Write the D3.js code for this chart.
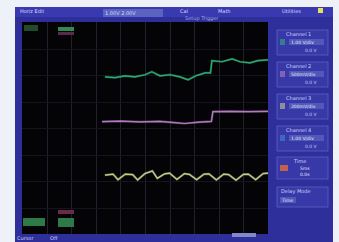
<!DOCTYPE html>
<html>
<head>
<meta charset="utf-8">
<script src="https://cdn.jsdelivr.net/npm/d3@7"></script>
<style>
  html, body { margin: 0; padding: 0; background: #eef1f8; }
  svg { display: block; }
  text { font-family: "DejaVu Sans", sans-serif; }
</style>
</head>
<body>
<div id="chart"></div>
<script>
// trace data, x in horizontal divisions (0-10), y in vertical divisions (-4..4)
const ch1Time = [3.37, 3.78, 4.19, 4.59, 5.0, 5.28, 5.61, 6.02, 6.42, 6.75, 7.07, 7.44, 7.66, 7.72, 8.13, 8.54, 8.86, 9.27, 9.59, 10.0];
const ch1Vals = [1.93, 1.9, 1.97, 1.93, 2.01, 2.12, 1.97, 2.01, 1.93, 1.82, 1.97, 2.08, 2.08, 2.54, 2.5, 2.61, 2.5, 2.46, 2.54, 2.57];

const ch2Time = [3.25, 4.0, 4.8, 5.6, 6.2, 6.6, 7.2, 7.7, 7.76, 8.5, 9.2, 10.0];
const ch2Vals = [0.24, 0.26, 0.23, 0.25, 0.2, 0.17, 0.22, 0.25, 0.62, 0.63, 0.62, 0.63];

const ch3Time = [3.37, 3.7, 3.9, 4.2, 4.5, 4.7, 5.0, 5.3, 5.5, 5.8, 6.0, 6.3, 6.6, 6.8, 7.1, 7.4, 7.6, 7.9, 8.2, 8.4, 8.7, 9.0, 9.2, 9.5, 9.8, 10.0];
const ch3Vals = [-1.78, -1.74, -1.95, -1.74, -1.76, -1.96, -1.72, -1.62, -1.9, -1.73, -1.7, -1.94, -1.72, -1.75, -1.95, -1.74, -1.73, -1.96, -1.74, -1.76, -1.97, -1.75, -1.74, -1.95, -1.72, -1.7];

const topMenu = ['Horiz Edit', 'Math', 'Utilities'];
const sideTitles = ['Channel 1', 'Channel 2', 'Channel 3', 'Channel 4'];
const sideScales = ['1.00 V/div', '500mV/div', '200mV/div', '1.00 V/div'];
const sideOffsets = ['0.0 V', '0.0 V', '0.0 V', '0.0 V'];
const chColors = ['#2fae74', '#b47cc0', '#c4cc8a', '#3a8ad0'];

const W = 339, H = 242;
const svg = d3.select('#chart').append('svg').attr('width', W).attr('height', H);

// instrument frame
svg.append('rect').attr('x', 15).attr('y', 7).attr('width', 318).attr('height', 235).attr('fill', '#2f2f9c');
svg.append('rect').attr('x', 15).attr('y', 7).attr('width', 318).attr('height', 10).attr('fill', '#3a3ab0');

// plot area
const plot = {left: 22, top: 22, right: 268, bottom: 234};
const x = d3.scaleLinear().domain([0, 10]).range([plot.left, plot.right]);
const y = d3.scaleLinear().domain([-4, 4]).range([plot.bottom, plot.top]);

svg.append('rect').attr('x', plot.left).attr('y', plot.top)
  .attr('width', plot.right - plot.left).attr('height', plot.bottom - plot.top).attr('fill', '#040406');

const grid = svg.append('g').attr('stroke', '#20202e').attr('stroke-width', 1);
grid.selectAll('line.v').data(d3.range(1, 10)).enter().append('line')
  .attr('x1', d => Math.round(x(d)) + 0.5).attr('x2', d => Math.round(x(d)) + 0.5)
  .attr('y1', plot.top).attr('y2', plot.bottom);
grid.selectAll('line.h').data(d3.range(-3, 4)).enter().append('line')
  .attr('y1', d => Math.round(y(d)) + 0.5).attr('y2', d => Math.round(y(d)) + 0.5)
  .attr('x1', plot.left).attr('x2', plot.right).attr('stroke', '#141420');

// traces
const line = d3.line().x(d => x(d[0])).y(d => y(d[1])).curve(d3.curveLinear);
const traces = [
  {t: ch1Time, v: ch1Vals, c: chColors[0]},
  {t: ch2Time, v: ch2Vals, c: chColors[1]},
  {t: ch3Time, v: ch3Vals, c: chColors[2]}
];
traces.forEach(tr => {
  const pts = tr.t.map((t, i) => [t, tr.v[i]]);
  svg.append('path').attr('d', line(pts)).attr('fill', 'none')
    .attr('stroke', tr.c).attr('stroke-width', 2.2).attr('opacity', 0.5);
  svg.append('path').attr('d', line(pts)).attr('fill', 'none')
    .attr('stroke', tr.c).attr('stroke-width', 1.2);
});

// channel tags inside the screen
const tags = svg.append('g');
tags.append('rect').attr('x', 24).attr('y', 25).attr('width', 14).attr('height', 6).attr('fill', '#1f4a2c');
tags.append('rect').attr('x', 58).attr('y', 27).attr('width', 16).attr('height', 4).attr('fill', '#2f8a52');
tags.append('rect').attr('x', 58).attr('y', 32).attr('width', 16).attr('height', 3).attr('fill', '#5a2a4a');
tags.append('rect').attr('x', 23).attr('y', 218).attr('width', 22).attr('height', 8).attr('fill', '#2d7a48');
tags.append('rect').attr('x', 58).attr('y', 210).attr('width', 16).attr('height', 4).attr('fill', '#6a2a4a');
tags.append('rect').attr('x', 58).attr('y', 218).attr('width', 16).attr('height', 9).attr('fill', '#2d7a48');

// top menu text
const header = svg.append('g').attr('fill', '#d8dcff').attr('font-size', 5);
header.append('text').attr('x', 20).attr('y', 13).text(topMenu[0]);
header.append('rect').attr('x', 103).attr('y', 9).attr('width', 60).attr('height', 8).attr('fill', '#5a64c0');
header.append('text').attr('x', 105).attr('y', 15).text('1.00V  2.00V');
header.append('text').attr('x', 180).attr('y', 13).text('Cal');
header.append('text').attr('x', 218).attr('y', 13).text(topMenu[1]);
header.append('text').attr('x', 282).attr('y', 13).text(topMenu[2]);
header.append('rect').attr('x', 318).attr('y', 8).attr('width', 5).attr('height', 5).attr('fill', '#e4e060');
header.append('text').attr('x', 185).attr('y', 20).text('Setup  Trigger').attr('fill', '#a0a8e8');

// right side panel boxes
const side = svg.append('g');
sideTitles.forEach((title, i) => {
  const by = 30 + i * 32;
  side.append('rect').attr('x', 277).attr('y', by).attr('width', 51).attr('height', 25)
    .attr('fill', '#3838a8').attr('stroke', '#6a70c8').attr('stroke-width', 0.6);
  side.append('text').attr('x', 286).attr('y', by + 6).attr('font-size', 5).attr('fill', '#d0d4ff').text(title);
  side.append('rect').attr('x', 289).attr('y', by + 9).attr('width', 35).attr('height', 6).attr('fill', '#5058b8');
  side.append('text').attr('x', 291).attr('y', by + 14).attr('font-size', 4.5).attr('fill', '#e8eaff').text(sideScales[i]);
  side.append('text').attr('x', 305).attr('y', by + 22).attr('font-size', 4.5).attr('fill', '#c8ccf8').text(sideOffsets[i]);
  side.append('rect').attr('x', 280).attr('y', by + 9).attr('width', 5).attr('height', 6).attr('fill', chColors[i]).attr('opacity', 0.6);
});
side.append('rect').attr('x', 277).attr('y', 157).attr('width', 51).attr('height', 22)
  .attr('fill', '#3838a8').attr('stroke', '#6a70c8').attr('stroke-width', 0.6);
side.append('text').attr('x', 294).attr('y', 163).attr('font-size', 5).attr('fill', '#d0d4ff').text('Time');
side.append('rect').attr('x', 280).attr('y', 165).attr('width', 8).attr('height', 6).attr('fill', '#c06050');
side.append('text').attr('x', 300).attr('y', 170).attr('font-size', 4.5).attr('fill', '#e8eaff').text('5ms');
side.append('text').attr('x', 300).attr('y', 176).attr('font-size', 4.5).attr('fill', '#e8eaff').text('0.0s');
side.append('rect').attr('x', 277).attr('y', 187).attr('width', 51).attr('height', 20)
  .attr('fill', '#3838a8').attr('stroke', '#6a70c8').attr('stroke-width', 0.6);
side.append('text').attr('x', 281).attr('y', 193).attr('font-size', 5).attr('fill', '#d0d4ff').text('Delay  Mode');
side.append('rect').attr('x', 280).attr('y', 197).attr('width', 16).attr('height', 6).attr('fill', '#5058b8');
side.append('text').attr('x', 282).attr('y', 202).attr('font-size', 4.5).attr('fill', '#e8eaff').text('Time');

// bottom strip
const bottom = svg.append('g').attr('font-size', 5).attr('fill', '#d0d4ff');
bottom.append('text').attr('x', 17).attr('y', 240).text('Cursor');
bottom.append('text').attr('x', 50).attr('y', 240).text('Off');
bottom.append('rect').attr('x', 232).attr('y', 233).attr('width', 24).attr('height', 4).attr('fill', '#8088c8');
</script>
</body>
</html>
